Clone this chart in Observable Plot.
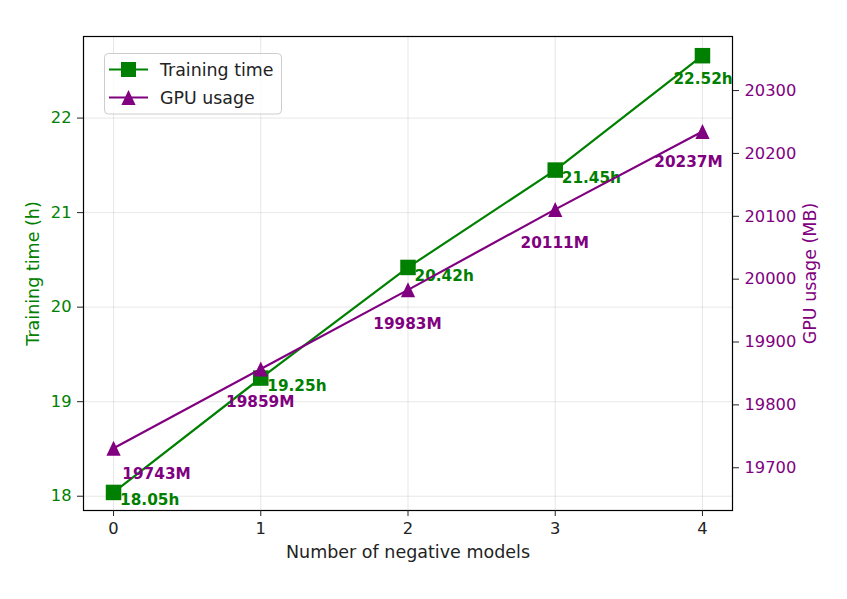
<!DOCTYPE html>
<html>
<head>
<meta charset="utf-8">
<script src="https://cdn.jsdelivr.net/npm/d3@7"></script>
<script src="https://cdn.jsdelivr.net/npm/@observablehq/plot@0.6"></script>
<style>
  html, body { margin: 0; padding: 0; background: white; }
  #wrap { position: relative; width: 847px; height: 599px; }
  #legend { position: absolute; left: 0; top: 0; pointer-events: none; }
</style>
</head>
<body>
<div id="wrap"></div>
<script>
// ---- data ----
const models = [0, 1, 2, 3, 4];
const trainingTime = [18.04, 19.25, 20.42, 21.45, 22.66];
const gpuUsage = [19731, 19857, 19983, 20111, 20235];
const trainingLabelValues = [18.05, 19.25, 20.42, 21.45, 22.52];
const gpuLabelValues = [19743, 19859, 19983, 20111, 20237];
const xTicks = [0, 1, 2, 3, 4];
const leftTicks = [18, 19, 20, 21, 22];
const rightTicks = [19700, 19800, 19900, 20000, 20100, 20200, 20300];

const GREEN = "#008000";
const PURPLE = "#800080";

// axis domains
const L0 = 17.849, L1 = 22.863;   // left axis (h)
const R0 = 19632, R1 = 20386;     // right axis (MB)
const toLeft = g => L0 + (g - R0) / (R1 - R0) * (L1 - L0);
const fromLeft = v => R0 + (v - L0) / (L1 - L0) * (R1 - R0);

const rows = models.map((m, i) => ({
  m, t: trainingTime[i], g: toLeft(gpuUsage[i]),
  tl: trainingLabelValues[i], gl: toLeft(gpuLabelValues[i]),
  tText: trainingLabelValues[i].toFixed(2) + "h",
  gText: gpuLabelValues[i] + "M", i
}));
const last = rows.length - 1;

const squareSym = { draw(ctx, size) { const r = Math.sqrt(size / Math.PI); ctx.rect(-r, -r, 2 * r, 2 * r); } };
const triSym = { draw(ctx, size) { const r = Math.sqrt(size / Math.PI); ctx.moveTo(0, -r); ctx.lineTo(r * 0.95, r); ctx.lineTo(-r * 0.95, r); ctx.closePath(); } };

const labelFont = { fontSize: 15.3, fontWeight: "bold", fontFamily: "DejaVu Sans" };

const chart = Plot.plot({
  width: 847,
  height: 599,
  marginLeft: 83,
  marginRight: 115,
  marginTop: 36,
  marginBottom: 89,
  style: { fontFamily: "DejaVu Sans", fontSize: "16.3px", background: "white" },
  x: { domain: [-0.204, 4.204] },
  y: { domain: [L0, L1] },
  marks: [
    Plot.gridX(xTicks, { stroke: "#b0b0b0", strokeOpacity: 0.3, strokeWidth: 1 }),
    Plot.gridY(leftTicks, { stroke: "#b0b0b0", strokeOpacity: 0.3, strokeWidth: 1 }),
    // training time
    Plot.line(rows, { x: "m", y: "t", stroke: GREEN, strokeWidth: 2.2 }),
    Plot.dot(rows, { x: "m", y: "t", symbol: squareSym, r: 7.75, fill: GREEN }),
    Plot.text(rows.filter(d => d.i !== last), { x: "m", y: "tl", text: "tText", fill: GREEN, textAnchor: "start", lineAnchor: "middle", dx: 6.5, dy: 8.5, ...labelFont }),
    Plot.text(rows.filter(d => d.i === last), { x: "m", y: "tl", text: "tText", fill: GREEN, textAnchor: "start", lineAnchor: "middle", dx: -29, dy: 10, ...labelFont }),
    // GPU usage
    Plot.line(rows, { x: "m", y: "g", stroke: PURPLE, strokeWidth: 2.2 }),
    Plot.dot(rows, { x: "m", y: "g", symbol: triSym, r: 7.5, fill: PURPLE }),
    Plot.text(rows.filter(d => d.i !== 0 && d.i !== last), { x: "m", y: "gl", text: "gText", fill: PURPLE, textAnchor: "middle", lineAnchor: "middle", dx: -0.5, dy: 34, ...labelFont }),
    Plot.text(rows.filter(d => d.i === 0), { x: "m", y: "gl", text: "gText", fill: PURPLE, textAnchor: "middle", lineAnchor: "middle", dx: 43, dy: 33, ...labelFont }),
    Plot.text(rows.filter(d => d.i === last), { x: "m", y: "gl", text: "gText", fill: PURPLE, textAnchor: "middle", lineAnchor: "middle", dx: -14, dy: 32, ...labelFont }),
    // frame and axes
    Plot.frame({ stroke: "black", strokeWidth: 1.2 }),
    Plot.axisX(xTicks, { tickSize: 6, tickPadding: 6, label: null, stroke: "#222", fill: "#222", tickFormat: d => String(d) }),
    Plot.axisY(leftTicks, { anchor: "left", tickSize: 6, tickPadding: 6, label: null, stroke: "#222", fill: GREEN, tickFormat: d => String(d) }),
    Plot.axisY(rightTicks.map(toLeft), { anchor: "right", tickSize: 6, tickPadding: 6, label: null, stroke: "#222", fill: PURPLE, tickFormat: d => String(Math.round(fromLeft(d))) }),
    Plot.text(["Number of negative models"], { frameAnchor: "bottom", dy: 42, lineAnchor: "middle", fill: "#222", fontSize: 17.5 }),
    Plot.text(["Training time (h)"], { frameAnchor: "left", dx: -50, rotate: -90, lineAnchor: "middle", textAnchor: "middle", fill: GREEN, fontSize: 17.5 }),
    Plot.text(["GPU usage (MB)"], { frameAnchor: "right", dx: 78, rotate: -90, lineAnchor: "middle", textAnchor: "middle", fill: PURPLE, fontSize: 17.5 })
  ]
});

const wrap = document.getElementById("wrap");
wrap.appendChild(chart);

// legend overlay
const legendItems = [
  { name: "Training time", color: GREEN, sym: "square" },
  { name: "GPU usage", color: PURPLE, sym: "triangle" }
];
const lg = d3.select(wrap).append("svg").attr("id", "legend").attr("width", 847).attr("height", 599)
  .attr("font-family", "DejaVu Sans").attr("font-size", 17.4);
lg.append("rect").attr("x", 104.5).attr("y", 53.5).attr("width", 177).attr("height", 60.5).attr("rx", 4)
  .attr("fill", "white").attr("fill-opacity", 0.8).attr("stroke", "#cccccc").attr("stroke-width", 1);
legendItems.forEach((it, k) => {
  const y = 69.5 + k * 28;
  lg.append("line").attr("x1", 109).attr("x2", 148).attr("y1", y).attr("y2", y).attr("stroke", it.color).attr("stroke-width", 2.2);
  if (it.sym === "square") {
    lg.append("rect").attr("x", 128.5 - 7.5).attr("y", y - 7.5).attr("width", 15).attr("height", 15).attr("fill", it.color);
  } else {
    lg.append("path").attr("d", `M128.5,${y - 7.5}L${128.5 + 7.1},${y + 7.5}L${128.5 - 7.1},${y + 7.5}Z`).attr("fill", it.color);
  }
  lg.append("text").attr("x", 160).attr("y", y).attr("dy", "0.36em").attr("fill", "#222").text(it.name);
});
</script>
</body>
</html>
